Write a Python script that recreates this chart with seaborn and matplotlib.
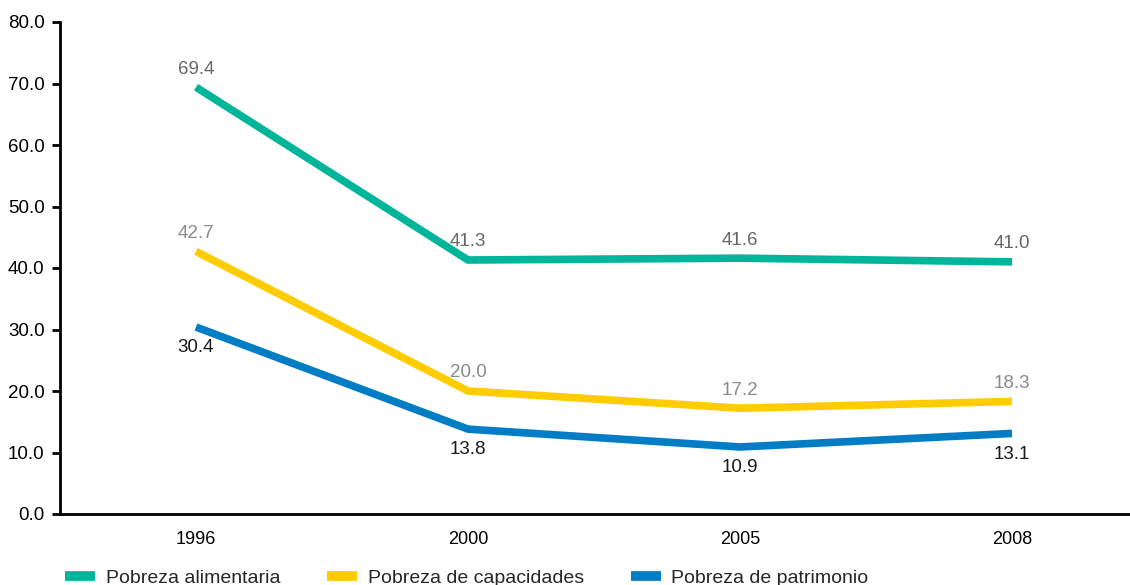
import numpy as np
import pandas as pd
import seaborn as sns
import matplotlib.pyplot as plt
from matplotlib.lines import Line2D

years = ["1996", "2000", "2005", "2008"]
alimentaria = [69.4, 41.3, 41.6, 41.0]
capacidades = [42.7, 20.0, 17.2, 18.3]
patrimonio = [30.4, 13.8, 10.9, 13.1]

series_names = ["Pobreza alimentaria", "Pobreza de capacidades", "Pobreza de patrimonio"]
line_colors = ["#00B59A", "#FFCC00", "#007DC5"]
label_colors = ["#666666", "#8a8a8a", "#1a1a1a"]
label_offsets = [13, 13, -15]

df = pd.DataFrame({
    "pos": list(range(len(years))) * 3,
    "value": alimentaria + capacidades + patrimonio,
    "serie": [s for s in series_names for _ in years],
})

sns.set_style("white")
plt.rcParams["font.family"] = ["Liberation Sans", "DejaVu Sans"]

fig = plt.figure(figsize=(11.3, 5.85), dpi=100)
ax = fig.add_axes([60 / 1130, 71 / 585, 1088 / 1130, 492 / 585])

sns.lineplot(data=df, x="pos", y="value", hue="serie", palette=line_colors,
             linewidth=5.5, ax=ax, legend=False)
for line in ax.lines:
    line.set_solid_capstyle("butt")
    line.set_solid_joinstyle("miter")

for vals, col, off in zip([alimentaria, capacidades, patrimonio], label_colors, label_offsets):
    for i, v in enumerate(vals):
        ax.annotate(f"{v:.1f}", (i, v), xytext=(0, off), textcoords="offset points",
                    ha="center", va="center", fontsize=13.5, color=col)

ax.set_xlim(-0.5, 3.5)
ax.set_ylim(0, 80)
ax.set_xticks(range(len(years)))
ax.set_xticklabels(years)
ax.set_yticks(np.arange(0, 81, 10))
ax.set_yticklabels([f"{t:.1f}" for t in np.arange(0, 81, 10)])
ax.tick_params(axis="y", which="both", left=True, length=6, width=2, labelsize=13.5, pad=5, colors="black")
ax.tick_params(axis="x", length=0, labelsize=13, pad=12, colors="black")
ax.set_xlabel("")
ax.set_ylabel("")
for s in ["top", "right"]:
    ax.spines[s].set_visible(False)
for s in ["left", "bottom"]:
    ax.spines[s].set_linewidth(2)
    ax.spines[s].set_color("black")

handles = [Line2D([0], [0], color=c, lw=7, solid_capstyle="butt") for c in line_colors]
fig.legend(handles, series_names, loc="center left", bbox_to_anchor=(65 / 1130, 7 / 585),
           ncol=3, frameon=False, fontsize=14, handlelength=1.55, columnspacing=2.4,
           handletextpad=0.55, borderaxespad=0, borderpad=0)

fig.savefig("out.png", dpi=100)
